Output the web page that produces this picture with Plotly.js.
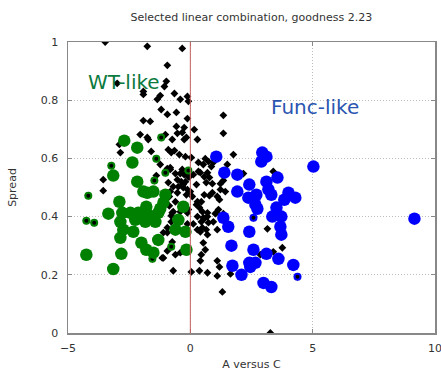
<!DOCTYPE html>
<html>
<head>
<meta charset="utf-8">
<script src="https://cdn.plot.ly/plotly-3.0.1.min.js"></script>
<style>html,body{margin:0;padding:0;background:#fff;}#chart{width:441px;height:374px;}</style>
</head>
<body>
<div id="chart"></div>
<script>
// ---- data (x = "A versus C", y = "Spread") ----
const otherX = [-3.48,-1.76,-0.33,-0.94,-0.98,-1.06,-2.99,-1.92,-1.92,-1.23,-0.65,-1.35,-0.41,-0.12,-0.08,-1.19,-0.94,-0.57,-1.92,-1.64,-0.12,1.35,-0.57,-0.25,0.16,1.35,0.29,-0.16,-2.05,-1.76,-1.72,-1.02,-0.53,-0.33,-0.25,-0.74,-2.90,-2.86,-1.60,-0.90,-0.78,-0.65,-0.45,-0.20,0.04,0.61,0.74,0.53,0.86,0.33,0.94,1.76,1.51,-1.23,-0.94,-0.82,-0.61,-0.33,-0.25,-0.04,0.12,0.33,0.70,0.78,0.41,0.57,2.17,3.39,-1.39,-0.82,-0.53,-0.29,-0.90,-3.56,-3.56,0.65,0.90,1.23,1.35,0.25,-0.37,-0.20,-0.49,-0.70,-0.29,-0.12,0.00,0.08,0.29,0.45,0.57,0.78,1.10,1.23,1.43,0.90,1.19,-0.53,-0.82,-0.86,-0.61,-0.20,-0.08,0.25,0.37,0.49,0.70,1.15,1.35,1.06,-0.74,-0.86,-0.41,-0.70,-0.78,-0.78,-0.94,-1.10,-0.12,-0.12,0.12,0.29,0.53,0.70,1.02,1.39,0.57,0.74,0.94,0.45,0.49,0.29,0.41,0.65,1.10,0.70,0.53,0.61,-0.94,-0.61,-1.10,-0.41,0.45,0.41,1.10,1.19,-0.70,0.04,0.37,0.70,1.10,1.64,1.31,3.15,2.86,3.39,3.76,3.27,-0.94,-0.74,-1.15,-0.08,-0.41,-0.16,
  -3.23,-1.19,-1.39,-1.02,-1.47,-0.08,-4.17,-4.25,-3.93,-0.78,-1.55,2.58,4.38];
const otherY = [1.00,0.985,0.978,0.920,0.865,0.847,0.858,0.830,0.820,0.816,0.823,0.803,0.803,0.813,0.796,0.768,0.751,0.758,0.730,0.727,0.737,0.748,0.710,0.706,0.699,0.686,0.665,0.672,0.682,0.672,0.665,0.682,0.686,0.689,0.665,0.665,0.648,0.620,0.624,0.630,0.620,0.627,0.613,0.606,0.603,0.599,0.589,0.579,0.572,0.586,0.586,0.613,0.579,0.579,0.565,0.568,0.548,0.562,0.544,0.537,0.544,0.555,0.551,0.534,0.551,0.537,0.548,0.555,0.541,0.562,0.527,0.510,0.517,0.527,0.489,0.517,0.513,0.513,0.524,0.510,0.520,0.520,0.503,0.503,0.500,0.493,0.486,0.469,0.451,0.451,0.475,0.472,0.469,0.493,0.486,0.482,0.458,0.482,0.486,0.469,0.451,0.441,0.424,0.441,0.431,0.417,0.413,0.424,0.410,0.413,0.413,0.437,0.417,0.417,0.403,0.382,0.362,0.345,0.413,0.375,0.375,0.400,0.396,0.400,0.410,0.400,0.393,0.379,0.382,0.382,0.362,0.355,0.348,0.355,0.355,0.338,0.310,0.286,0.282,0.269,0.258,0.276,0.269,0.248,0.248,0.227,0.214,0.210,0.214,0.207,0.196,0.203,0.141,0.358,0.269,0.279,0.293,0.000,0.345,0.313,0.258,0.537,0.548,0.475,
  0.575,0.672,0.599,0.551,0.524,0.558,0.472,0.386,0.379,0.296,0.255,0.396,0.193];

const wtX = [-2.70,-2.17,-2.37,-3.15,-2.17,-1.92,-1.51,-1.76,-1.02,-2.90,-1.10,-1.80,-1.23,-3.35,-2.78,-2.45,-2.13,-1.72,-1.31,-0.29,-2.86,-2.25,-1.84,-1.43,-0.49,-2.74,-2.33,-0.61,-0.20,-2.86,-1.31,-2.00,-1.80,-1.51,-0.16,-4.25,-2.82,-3.15];
const wtY = [0.661,0.637,0.586,0.541,0.520,0.486,0.486,0.482,0.475,0.451,0.448,0.434,0.427,0.410,0.413,0.413,0.413,0.406,0.413,0.434,0.382,0.389,0.382,0.382,0.389,0.355,0.348,0.355,0.348,0.327,0.320,0.310,0.286,0.276,0.286,0.269,0.272,0.220];
const wtMinorX = [-3.23,-1.19,-1.39,-1.02,-1.47,-0.08,-4.17,-4.25,-3.93,-0.78,-1.55];
const wtMinorY = [0.575,0.672,0.599,0.551,0.524,0.558,0.472,0.386,0.379,0.296,0.255];

const funcX = [1.06,2.94,3.11,2.90,5.03,9.16,1.39,1.92,3.56,2.41,3.11,1.92,3.19,3.31,2.37,2.70,4.01,4.29,3.84,2.66,2.74,3.52,1.35,1.55,3.35,3.72,3.68,3.72,2.41,1.68,2.58,3.11,3.60,2.41,2.66,2.45,4.21,1.72,2.09,2.99,3.31];
const funcY = [0.606,0.620,0.606,0.589,0.572,0.393,0.551,0.544,0.534,0.510,0.520,0.486,0.493,0.475,0.465,0.475,0.482,0.465,0.458,0.441,0.427,0.431,0.396,0.365,0.400,0.400,0.365,0.338,0.348,0.300,0.286,0.272,0.255,0.241,0.241,0.227,0.234,0.231,0.200,0.172,0.158];
const funcMinorX = [2.58,4.38];
const funcMinorY = [0.396,0.193];

const xTicks = [-5,0,5,10];
const yTicks = [0,0.2,0.4,0.6,0.8,1];
const titleText = 'Selected linear combination, goodness 2.23';
const xLabel = 'A versus C';
const yLabel = 'Spread';
const groupLabels = ['WT-like','Func-like'];
const labelPos = [[-2.70,0.861],[5.11,0.778]];

// ---- traces ----
const green = '#008000', blue = '#0000ff';
const traces = [
  {x: otherX, y: otherY, type:'scatter', mode:'markers', hoverinfo:'none',
   marker:{symbol:'diamond', size:6, color:'#000'}},
  {x: wtX, y: wtY, type:'scatter', mode:'markers',
   marker:{symbol:'circle', size:12.5, color:green}},
  {x: funcX, y: funcY, type:'scatter', mode:'markers',
   marker:{symbol:'circle', size:12.5, color:blue}},
  {x: wtMinorX, y: wtMinorY, type:'scatter', mode:'markers',
   marker:{symbol:'circle-open', size:6, color:green, line:{width:2, color:green}}},
  {x: funcMinorX, y: funcMinorY, type:'scatter', mode:'markers',
   marker:{symbol:'circle-open', size:6, color:blue, line:{width:2, color:blue}}}
];

const tfont = {family:'DejaVu Sans', size:11, color:'#333'};
const axisCommon = {
  showline:true, linecolor:'#888', linewidth:1.5, mirror:'ticks',
  ticks:'inside', ticklen:4, tickcolor:'#888', tickwidth:1,
  showgrid:true, gridcolor:'#bdbdbd', griddash:'1px,2px', gridwidth:1,
  zeroline:false, tickfont:tfont, ticklabeloverflow:'allow', automargin:false
};

const layout = {
  width:441, height:374,
  margin:{l:68, r:6, t:42, b:41},
  paper_bgcolor:'#fff', plot_bgcolor:'#fff',
  showlegend:false,
  font:tfont,
  title:{text:titleText, x:0.57, xanchor:'center', y:0.955, yanchor:'middle', font:tfont},
  xaxis: Object.assign({}, axisCommon, {range:[-5,10], tickvals:xTicks, ticklabelstandoff:4,
         title:{text:xLabel, standoff:6, font:tfont}}),
  yaxis: Object.assign({}, axisCommon, {range:[0,1], tickvals:yTicks, ticklabelstandoff:6,
         title:{text:yLabel, standoff:22, font:tfont}}),
  shapes:[{type:'line', xref:'x', yref:'y', x0:0, x1:0, y0:0, y1:1,
           line:{color:'#c86060', width:1}}],
  annotations:[
    {x:labelPos[0][0], y:labelPos[0][1], xref:'x', yref:'y', text:groupLabels[0], showarrow:false,
     font:{family:'DejaVu Sans', size:20, color:'#0b7a3e'}},
    {x:labelPos[1][0], y:labelPos[1][1], xref:'x', yref:'y', text:groupLabels[1], showarrow:false,
     font:{family:'DejaVu Sans', size:20, color:'#2a55b0'}}
  ]
};

Plotly.newPlot('chart', traces, layout, {displayModeBar:false, staticPlot:true});
</script>
</body>
</html>
